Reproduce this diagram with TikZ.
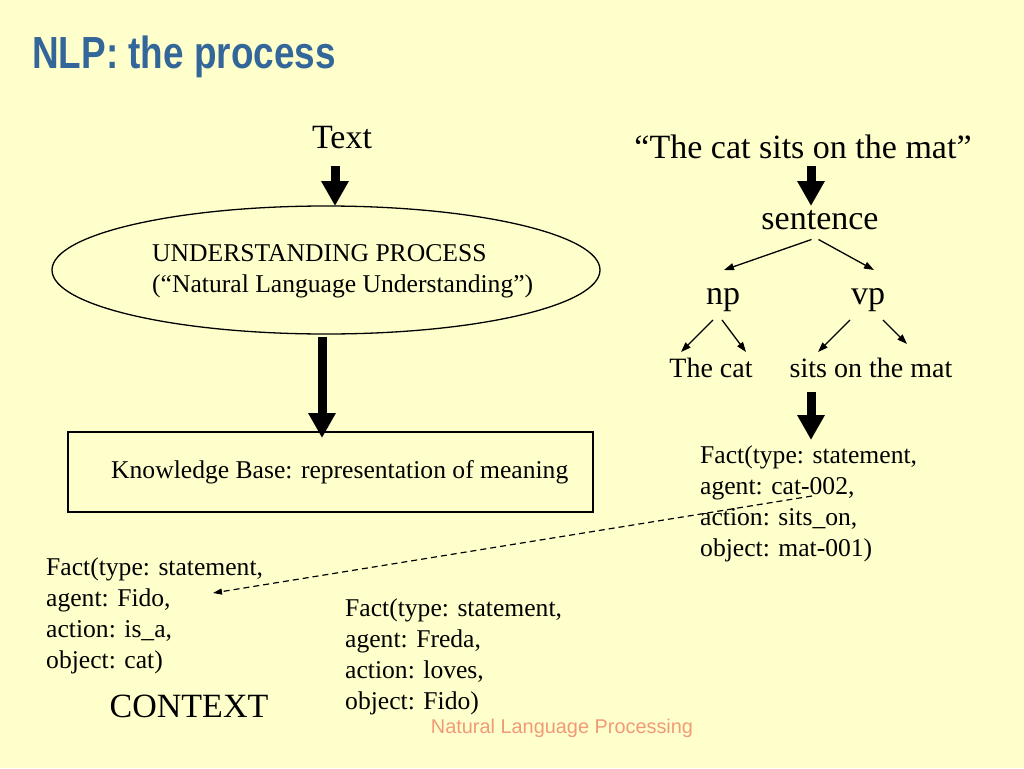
\documentclass[tikz,border=0pt]{standalone}
\usepackage{fontspec}
\setmainfont{Liberation Serif}
\newfontfamily\titlefont[FakeStretch=0.82]{Liberation Sans}
\newfontfamily\footfont{Liberation Sans}
\usetikzlibrary{arrows.meta,shapes.geometric}
\definecolor{bg}{HTML}{FFFFCC}
\definecolor{titleblue}{HTML}{336699}
\definecolor{footorange}{HTML}{F09A78}
\tikzset{
  big/.style={font=\fontsize{34}{40}\selectfont, inner sep=0pt},
  med/.style={font=\fontsize{25.6}{31}\selectfont, inner sep=0pt},
  leaf/.style={font=\fontsize{28}{32}\selectfont, inner sep=0pt},
  bigarrow/.style={line width=9pt, -{Triangle[width=26pt,length=25pt]}},
  treearrow/.style={line width=1.3pt, -{Triangle[width=7pt,length=10pt]}},
  dasharrow/.style={line width=1.2pt, dash pattern=on 6pt off 4pt, -{Triangle[width=6pt,length=9pt]}},
}
\begin{document}
\begin{tikzpicture}[x=1pt,y=-1pt]
\fill[bg] (0,0) rectangle (1024,768);
\useasboundingbox (0,0) rectangle (1024,768);

% title
\node[anchor=base west, inner sep=0pt, text=titleblue, font=\titlefont\bfseries\fontsize{45}{50}\selectfont] (title) at (32,68) {NLP: the process};

% left column
\node[big, anchor=base] (text) at (342,148) {Text};
\node[draw, ellipse, line width=1.3pt, minimum width=548pt, minimum height=128pt, inner sep=0pt] (ell) at (326,270) {};
\node[med, anchor=base west, align=left] (up) at (152,292) {UNDERSTANDING PROCESS\\(“Natural Language Understanding”)};
\node[draw, line width=1.2pt, minimum width=525pt, minimum height=80pt, inner sep=0pt] (kb) at (330.5,472) {};
\node[med, anchor=base west] (kbt) at (111,478) {Knowledge Base: representation of meaning};

\coordinate (a1s) at (335,166);
\coordinate (a1e) at (335,206);
\draw[bigarrow] (a1s) -- (a1e);
\coordinate (a2s) at (322,337);
\coordinate (a2e) at (322,438);
\draw[bigarrow] (a2s) -- (a2e);

% right column
\node[big, anchor=base] (quote) at (803,158) {“The cat sits on the mat”};
\node[big, anchor=base] (sent) at (820,229) {sentence};
\node[big, anchor=base] (np) at (723,304) {np};
\node[big, anchor=base] (vp) at (868,304) {vp};
\node[leaf, anchor=base] (thecat) at (711,377) {The cat};
\node[leaf, anchor=base] (sits) at (871,377) {sits on the mat};

\coordinate (a3s) at (811,166);
\coordinate (a3e) at (811,206);
\draw[bigarrow] (a3s) -- (a3e);
\coordinate (a4s) at (811,392);
\coordinate (a4e) at (811,440);
\draw[bigarrow] (a4s) -- (a4e);

\coordinate (s1) at (811.5,239.5);
\coordinate (s1e) at (724,270);
\coordinate (s2) at (818.5,239.5);
\coordinate (s2e) at (874,270);
\draw[treearrow] (s1) -- (s1e);
\draw[treearrow] (s2) -- (s2e);
\coordinate (n1) at (713,320);
\coordinate (n1e) at (681,352);
\coordinate (n2) at (722,320);
\coordinate (n2e) at (746,352);
\draw[treearrow] (n1) -- (n1e);
\draw[treearrow] (n2) -- (n2e);
\coordinate (v1) at (850,320);
\coordinate (v1e) at (818,352);
\coordinate (v2) at (883,320);
\coordinate (v2e) at (907,344);
\draw[treearrow] (v1) -- (v1e);
\draw[treearrow] (v2) -- (v2e);

% facts
\node[med, anchor=base west, align=left] (factR) at (700,556) {Fact(type: statement,\\agent: cat-002,\\action: sits\_on,\\object: mat-001)};
\node[med, anchor=base west, align=left] (factL) at (46,668) {Fact(type: statement,\\agent: Fido,\\action: is\_a,\\object: cat)};
\node[med, anchor=base west, align=left] (factM) at (345,709) {Fact(type: statement,\\agent: Freda,\\action: loves,\\object: Fido)};

\coordinate (d1) at (812,496);
\coordinate (d2) at (213,593);
\draw[dasharrow] (d1) -- (d2);

\node[big, anchor=base] (context) at (189,717) {CONTEXT};
\node[anchor=base, inner sep=0pt, text=footorange, font=\footfont\fontsize{19.9}{24}\selectfont] (foot) at (562,733) {Natural Language Processing};
\end{tikzpicture}
\end{document}
